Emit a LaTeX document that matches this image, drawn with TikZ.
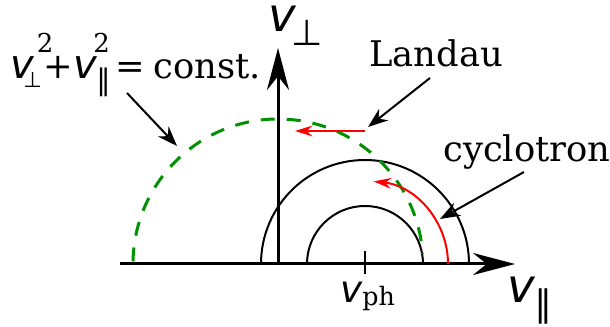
\documentclass[tikz,border=0pt]{standalone}
\usepackage{fontspec}
\setmainfont{DejaVu Serif}
\newfontfamily\vsans{DejaVu Sans Oblique}
\newfontfamily\symsans{DejaVu Sans}
\usetikzlibrary{arrows.meta}
\definecolor{dashgreen}{RGB}{0,145,0}
\newcommand{\vel}{{\vsans v}}
\newcommand{\fs}[1]{\fontsize{#1}{#1}\selectfont}

\begin{document}
\begin{tikzpicture}[
        x=0.75pt, y=0.75pt,
        axis/.style={line width=2.25pt, -{Stealth[length=31.5pt, width=16.5pt]}},
        orbit/.style={line width=1.5pt},
        resonance/.style={line width=1.5pt, red, -{Stealth[length=13pt, width=8pt]}},
        energy/.style={line width=2.25pt, dashgreen, dash pattern=on 10.5pt off 9pt},
        pointer/.style={line width=1.5pt, -{Stealth[length=15pt, width=11pt]}},
        lbl/.style={font=\fs{26.5}, inner sep=0pt},
    ]
    \useasboundingbox (-278,-63) rectangle (332,264);
    % AXES
    \coordinate (O) at (0,0);
    \coordinate (xstart) at (-158,0);
    \coordinate (xend) at (237,0);
    \coordinate (yend) at (0,216);
    \draw[axis] (xstart) -- (xend);
    \draw[axis] (O) -- (yend);
    \node[font=\fs{35}, inner sep=0pt, anchor=base west] (vperp) at (-10,232)
        {\vel\kern-0.1em\raisebox{-0.3em}{\symsans\fs{27}⊥}};
    \node[font=\fs{35}, inner sep=0pt, anchor=base west] (vpar) at (229,-39)
        {\vel\raisebox{-0.3em}{\symsans\fs{27}∥}};
    % PHASE VELOCITY
    \coordinate (ph) at (87,0);
    \coordinate (tickbot) at (87,-10);
    \coordinate (ticktop) at (87,13);
    \draw[orbit] (tickbot) -- (ticktop);
    \node[font=\fs{28}, inner sep=0pt, anchor=base west] (vph) at (62,-39)
        {\vel\raisebox{-0.08em}{\fs{19}ph}};
    % ORBITS
    \draw[orbit] (ph) ++(0:78pt) arc[start angle=0, end angle=180, radius=78pt];
    \draw[orbit] (ph) ++(0:43.5pt) arc[start angle=0, end angle=180, radius=43.5pt];
    \draw[energy] (O) ++(179:108.75pt) arc[start angle=179, end angle=4, radius=108.75pt];
    % RESONANCES
    \draw[resonance] (ph) ++(0:62.25pt) arc[start angle=0, end angle=84, radius=62.25pt];
    \coordinate (landauR) at (87,133);
    \coordinate (landauL) at (17,133);
    \draw[resonance] (landauR) -- (landauL);
    % LABELS
    \node[lbl, anchor=base] (landau) at (158,197) {Landau};
    \node[lbl, anchor=base] (cyclo) at (249,102) {cyclotron};
    \node[lbl, anchor=base west] (const) at (-268,185) {%
        {\fs{30}\vel}\kern-0.3em\makebox[0pt][l]{\kern0.38em\raisebox{0.76em}{\fs{19.5}2}}%
        \raisebox{-0.23em}{\symsans\fs{16}⊥}\kern0.05em+%
        {\fs{30}\vel}\makebox[0pt][l]{\kern-0.1em\raisebox{0.76em}{\fs{19.5}2}}%
        \raisebox{-0.33em}{\symsans\fs{22}∥}\kern-0.1em\kern0.22em=\kern0.22em const.};
    \coordinate (landaufoot) at (152,186); \coordinate (landautip) at (90,137);
    \coordinate (cyclofoot) at (246,92); \coordinate (cyclotip) at (162,45);
    \coordinate (constfoot) at (-151,171); \coordinate (consttip) at (-101,118);
    \draw[pointer] (landaufoot) -- (landautip);
    \draw[pointer] (cyclofoot) -- (cyclotip);
    \draw[pointer] (constfoot) -- (consttip);
\end{tikzpicture}
\end{document}
